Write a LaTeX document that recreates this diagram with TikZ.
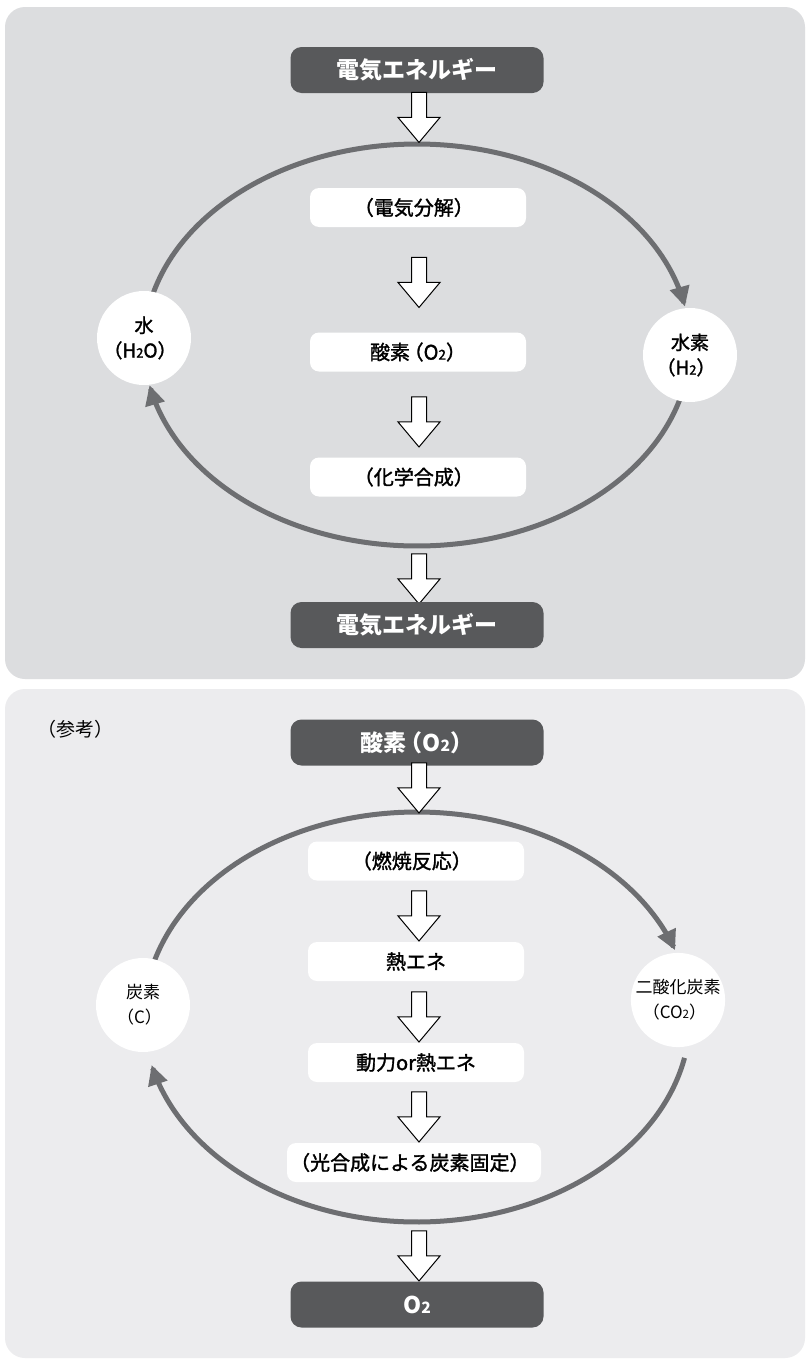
\documentclass[tikz,border=0pt]{standalone}
\usepackage{fontspec}
\usepackage{graphicx}
\setmainfont{Noto Sans CJK JP}
\newfontfamily\jpmed{Noto Sans CJK JP}[FakeBold=1.5]
\usetikzlibrary{shapes.arrows,arrows.meta}
\definecolor{panelA}{HTML}{DCDDDF}
\definecolor{panelB}{HTML}{ECECEE}
\definecolor{darkfill}{HTML}{58595B}
\definecolor{ringc}{HTML}{6D6E71}
\newcommand{\stwo}{\scalebox{0.68}{2}}
\newcommand{\lp}{\hspace{-0.42em}（}
\newcommand{\rp}{）\hspace{-0.42em}}
\tikzset{
  darkbox/.style={fill=darkfill, rounded corners=11pt, minimum width=253pt, minimum height=46pt, inner sep=0pt, text=white, font=\bfseries\fontsize{23}{23}\selectfont},
  whitebox/.style={fill=white, rounded corners=9pt, minimum width=216pt, minimum height=39pt, inner sep=0pt, font=\jpmed\fontsize{20}{20}\selectfont},
  blockarrow/.style={single arrow, draw=black, fill=white, line width=1pt, shape border rotate=270, minimum height=50pt, minimum width=41pt, inner sep=7pt, single arrow head extend=13.5pt, single arrow tip angle=80},
  ring/.style={draw=ringc, line width=5pt},
  ringtip/.style={{Triangle[length=20pt,width=19pt]}-},
  topcirc/.style={circle, fill=white, minimum size=94pt, inner sep=0pt, align=center, font=\jpmed\fontsize{19}{25}\selectfont},
  botcirc/.style={circle, fill=white, minimum size=94pt, inner sep=0pt, align=center, font=\fontsize{17}{25}\selectfont},
}
\begin{document}
\begin{tikzpicture}[x=1pt,y=-1pt]
\useasboundingbox (0,0) rectangle (806,1365);
\fill[white] (0,0) rectangle (806,1365);
% panels
\fill[panelA, rounded corners=20pt] (5,7) rectangle (805,679);
\fill[panelB, rounded corners=20pt] (5,689) rectangle (805,1358);

% ===== top panel =====
\draw[ring, ringtip] plot[domain=11:175, samples=150, variable=\t] ({417+273*cos(\t)}, {345-201*sin(\t)});
\draw[ring, ringtip] plot[domain=191.5:355, samples=150, variable=\t] ({417+273*cos(\t)}, {345-201*sin(\t)});

\node[darkbox] (e1) at (417,70) {電気エネルギー};
\node[blockarrow] (a0) at (419,113) {};
\node[whitebox] (b1) at (418,207.5) {\lp 電気分解\rp};
\node[blockarrow] (a1) at (419,278) {};
\node[whitebox] (b2) at (418,352) {酸素\hspace{0.1em}\lp O\stwo\rp};
\node[blockarrow] (a2) at (419,417.5) {};
\node[whitebox] (b3) at (418,477) {\lp 化学合成\rp};
\node[blockarrow] (a3) at (419,574.5) {};
\node[darkbox] (e2) at (417,625) {電気エネルギー};

\node[topcirc] (w) at (144,338) {水\\\lp H\stwo O\rp};
\node[topcirc] (h) at (690,355) {水素\\\lp H\stwo\rp};

% ===== bottom panel =====
\node[font=\fontsize{19}{19}\selectfont] (ref) at (75,729) {（参考）};
\draw[ring, ringtip] plot[domain=19:170, samples=150, variable=\t] ({417+273*cos(\t)}, {1017-205*sin(\t)});
\draw[ring, ringtip] plot[domain=193.5:348.5, samples=150, variable=\t] ({417+273*cos(\t)}, {1017-205*sin(\t)});

\node[darkbox] (o1) at (417,742.5) {酸素\hspace{0.1em}\lp O\stwo\rp};
\node[blockarrow] (c0) at (419,783.5) {};
\node[whitebox] (d1) at (416,861) {\lp 燃焼反応\rp};
\node[blockarrow] (c1) at (419,911.5) {};
\node[whitebox] (d2) at (416,961.5) {熱エネ};
\node[blockarrow] (c2) at (419,1012.5) {};
\node[whitebox] (d3) at (416,1062.5) {動力or熱エネ};
\node[blockarrow] (c3) at (419,1112.5) {};
\node[whitebox, minimum width=254pt] (d4) at (414,1162.5) {\lp 光合成による炭素固定\rp};
\node[blockarrow] (c4) at (419,1251.5) {};
\node[darkbox] (o2) at (417,1304.5) {O\stwo};

\node[botcirc] (cc) at (143,1005) {炭素\\\lp C\rp};
\node[botcirc] (co) at (678,1000) {二酸化炭素\\\lp CO\stwo\rp};
\end{tikzpicture}
\end{document}
